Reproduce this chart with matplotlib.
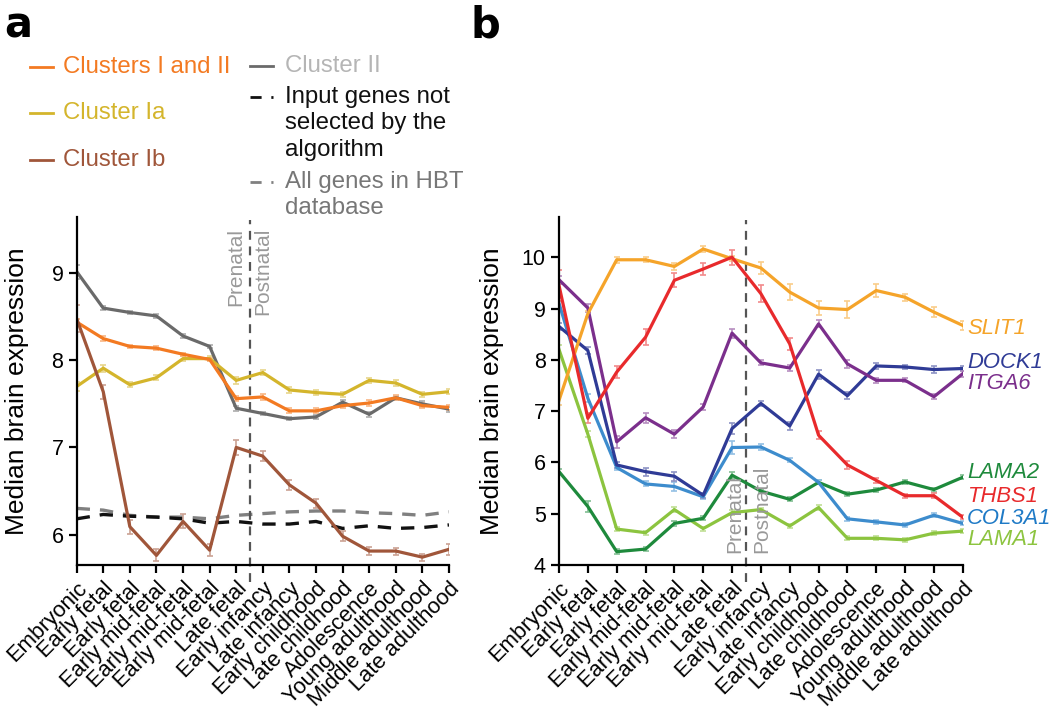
import numpy as np
import matplotlib
matplotlib.use("Agg")
import matplotlib.pyplot as plt
from matplotlib.lines import Line2D
from matplotlib.colors import to_rgb

plt.rcParams['font.family'] = ['Liberation Sans', 'DejaVu Sans']

stages = ["Embryonic", "Early fetal", "Early fetal", "Early mid-fetal", "Early mid-fetal",
          "Early mid-fetal", "Late fetal", "Early infancy", "Late infancy", "Early childhood",
          "Late childhood", "Adolescence", "Young adulthood", "Middle adulthood", "Late adulthood"]

# panel a
clusters_1_2 = [8.44, 8.25, 8.16, 8.14, 8.07, 8.01, 7.56, 7.58, 7.42, 7.42, 7.48, 7.51, 7.57, 7.48, 7.46]
cluster_1a = [7.70, 7.91, 7.72, 7.80, 8.02, 8.02, 7.77, 7.86, 7.66, 7.63, 7.61, 7.77, 7.74, 7.61, 7.64]
cluster_1b = [8.48, 7.64, 6.09, 5.76, 6.15, 5.82, 7.00, 6.90, 6.57, 6.36, 5.98, 5.81, 5.81, 5.74, 5.83]
cluster_2 = [9.02, 8.60, 8.55, 8.51, 8.28, 8.16, 7.45, 7.39, 7.33, 7.35, 7.52, 7.38, 7.57, 7.50, 7.44]
input_genes = [6.18, 6.23, 6.21, 6.20, 6.18, 6.13, 6.15, 6.12, 6.12, 6.15, 6.07, 6.10, 6.07, 6.08, 6.11]
all_genes = [6.30, 6.28, 6.22, 6.20, 6.20, 6.18, 6.22, 6.24, 6.26, 6.27, 6.27, 6.25, 6.24, 6.22, 6.26]

err_1_2 = [0.04, 0.03, 0.02, 0.02, 0.02, 0.02, 0.03, 0.03, 0.03, 0.03, 0.03, 0.03, 0.03, 0.03, 0.03]
err_1a = [0.05, 0.04, 0.03, 0.03, 0.03, 0.03, 0.04, 0.03, 0.03, 0.03, 0.03, 0.03, 0.03, 0.03, 0.03]
err_1b = [0.15, 0.08, 0.08, 0.07, 0.08, 0.07, 0.09, 0.06, 0.06, 0.05, 0.06, 0.05, 0.04, 0.04, 0.06]
err_2 = [0.08, 0.02, 0.02, 0.02, 0.02, 0.02, 0.03, 0.02, 0.02, 0.02, 0.03, 0.03, 0.02, 0.03, 0.03]

# panel b
slit1 = [7.21, 8.90, 9.95, 9.95, 9.82, 10.16, 9.97, 9.79, 9.32, 9.01, 8.98, 9.35, 9.22, 8.93, 8.67]
dock1 = [8.65, 8.18, 5.95, 5.82, 5.73, 5.36, 6.66, 7.15, 6.71, 7.72, 7.30, 7.88, 7.86, 7.81, 7.83]
itga6 = [9.56, 9.01, 6.40, 6.87, 6.55, 7.08, 8.52, 7.94, 7.84, 8.70, 7.92, 7.60, 7.60, 7.28, 7.73]
lama2 = [5.82, 5.14, 4.26, 4.31, 4.81, 4.91, 5.75, 5.44, 5.28, 5.61, 5.38, 5.46, 5.62, 5.47, 5.71]
thbs1 = [9.45, 6.86, 7.76, 8.44, 9.55, 9.77, 10.00, 9.29, 8.31, 6.53, 5.95, 5.65, 5.35, 5.35, 4.93]
col3a1 = [9.10, 7.25, 5.90, 5.58, 5.53, 5.33, 6.29, 6.30, 6.04, 5.61, 4.90, 4.84, 4.78, 4.97, 4.81]
lama1 = [8.20, 6.55, 4.70, 4.63, 5.08, 4.71, 5.02, 5.08, 4.76, 5.12, 4.52, 4.52, 4.49, 4.62, 4.66]

err_slit1 = [0.10, 0.06, 0.06, 0.05, 0.06, 0.05, 0.05, 0.12, 0.15, 0.13, 0.17, 0.12, 0.07, 0.10, 0.09]
err_dock1 = [0.07, 0.06, 0.06, 0.08, 0.09, 0.05, 0.10, 0.05, 0.07, 0.09, 0.07, 0.06, 0.04, 0.07, 0.05]
err_itga6 = [0.08, 0.08, 0.12, 0.10, 0.08, 0.06, 0.09, 0.05, 0.06, 0.07, 0.08, 0.05, 0.04, 0.05, 0.06]
err_lama2 = [0.05, 0.10, 0.05, 0.04, 0.05, 0.04, 0.07, 0.04, 0.04, 0.04, 0.04, 0.04, 0.04, 0.04, 0.04]
err_thbs1 = [0.30, 0.10, 0.12, 0.16, 0.14, 0.12, 0.15, 0.16, 0.12, 0.08, 0.07, 0.05, 0.04, 0.05, 0.04]
err_col3a1 = [0.10, 0.08, 0.05, 0.05, 0.08, 0.05, 0.13, 0.05, 0.04, 0.04, 0.04, 0.04, 0.04, 0.04, 0.04]
err_lama1 = [0.08, 0.06, 0.04, 0.04, 0.05, 0.04, 0.05, 0.04, 0.04, 0.04, 0.04, 0.04, 0.04, 0.04, 0.04]

x = np.arange(len(stages))


def light(c, f=0.45):
    r, g, b = to_rgb(c)
    return (r + (1 - r) * f, g + (1 - g) * f, b + (1 - b) * f)


def style(ax, pad):
    for s in ["top", "right"]:
        ax.spines[s].set_visible(False)
    for s in ["left", "bottom"]:
        ax.spines[s].set_linewidth(1.6)
    ax.tick_params(direction="out", length=6, width=1.6, labelsize=15.5)
    ax.set_xlim(0, 14)
    ax.set_xticks(x)
    ax.set_xticklabels(stages, rotation=45, ha="right", rotation_mode="anchor", fontsize=15.8)
    ax.set_ylabel("Median brain expression", fontsize=19, labelpad=pad)


fig = plt.figure(figsize=(10.5, 7.13), dpi=100)

# ---- a ----
ax = fig.add_axes([0.073, 0.2076, 0.3546, 0.4885])
series_a = [
    (cluster_2, err_2, "#6a6a6a"),
    (cluster_1a, err_1a, "#d4b52c"),
    (clusters_1_2, err_1_2, "#f37a22"),
    (cluster_1b, err_1b, "#a0563a"),
]
ax.plot(x, all_genes, color="#808080", lw=2.4, ls=(0, (4, 3)))
ax.plot(x, input_genes, color="#111111", lw=2.4, ls=(0, (4, 3)))
for y, e, c in series_a:
    ax.errorbar(x, y, yerr=e, color=c, lw=2.3, ecolor=light(c), elinewidth=1.2, capsize=2.5, capthick=1.2)
ax.set_ylim(5.65, 9.65)
ax.set_yticks([6, 7, 8, 9])
style(ax, 16)
ax.axvline(6.5, ymin=-0.05, ymax=0.99, color="#555555", lw=1.6, ls=(0, (4, 3)), clip_on=False)
ax.text(6.0, 9.52, "Prenatal", rotation=90, ha="center", va="top", color="#999999", fontsize=15)
ax.text(7.0, 9.52, "Postnatal", rotation=90, ha="center", va="top", color="#999999", fontsize=15)

# ---- b ----
bx = fig.add_axes([0.5324, 0.2076, 0.3845, 0.4885])
series_b = [
    (lama1, err_lama1, "#8cc43f", "#8cc43f", "LAMA1", 4.50),
    (lama2, err_lama2, "#1e8a3c", "#1e8a3c", "LAMA2", 5.81),
    (col3a1, err_col3a1, "#3d8ccd", "#1f7ac6", "COL3A1", 4.90),
    (dock1, err_dock1, "#2f3b96", "#2f3b96", "DOCK1", 7.95),
    (itga6, err_itga6, "#7b2f8c", "#7b2f8c", "ITGA6", 7.54),
    (slit1, err_slit1, "#f5a42a", "#f5a42a", "SLIT1", 8.61),
    (thbs1, err_thbs1, "#e82a2c", "#e82a2c", "THBS1", 5.33),
]
for y, e, c, tc, name, ly in series_b:
    bx.errorbar(x, y, yerr=e, color=c, lw=2.3, ecolor=light(c), elinewidth=1.2, capsize=2.5, capthick=1.2)
    bx.text(14.15, ly, name, color=tc, fontsize=15.8, style="italic", va="center", ha="left")
bx.set_ylim(4, 10.79)
bx.set_yticks([4, 5, 6, 7, 8, 9, 10])
style(bx, 13)
bx.axvline(6.5, ymin=-0.05, ymax=0.99, color="#555555", lw=1.6, ls=(0, (4, 3)), clip_on=False)
bx.text(6.1, 4.24, "Prenatal", rotation=90, ha="center", va="bottom", color="#999999", fontsize=15)
bx.text(7.03, 4.24, "Postnatal", rotation=90, ha="center", va="bottom", color="#999999", fontsize=15)

# panel letters
fig.text(0.004, 1 - 38 / 713, "a", fontsize=30, fontweight="bold", va="baseline", ha="left", family="DejaVu Sans")
fig.text(0.448, 1 - 38 / 713, "b", fontsize=30, fontweight="bold", va="baseline", ha="left", family="DejaVu Sans")


def fy(py):
    return 1 - py / 713.0


# legend, drawn by hand
legend_left = [("Clusters I and II", "#f37a22", 67),
               ("Cluster Ia", "#d4b52c", 113),
               ("Cluster Ib", "#a0563a", 160)]
for lab, c, py in legend_left:
    fig.add_artist(Line2D([30 / 1050, 53 / 1050], [fy(py), fy(py)], color=c, lw=2))
    fig.text(63 / 1050, fy(py), lab, color=c, fontsize=17.3, va="center", ha="left")

legend_right = [(["Cluster II"], "#6a6a6a", "#b5b5b5", "-", 66),
                (["Input genes not", "selected by the", "algorithm"], "#111111", "#111111", "--", 97),
                (["All genes in HBT", "database"], "#808080", "#777777", "--", 182)]
for lines, lc, tc, ls, py in legend_right:
    fig.add_artist(Line2D([250 / 1050, 273 / 1050], [fy(py), fy(py)], color=lc, lw=2,
                          ls=(0, (4, 3.5)) if ls == "--" else "-"))
    for k, t in enumerate(lines):
        fig.text(285 / 1050, fy(py + 26.5 * k), t, color=tc, fontsize=17.3, va="center", ha="left")

fig.savefig("out.png", dpi=100)
